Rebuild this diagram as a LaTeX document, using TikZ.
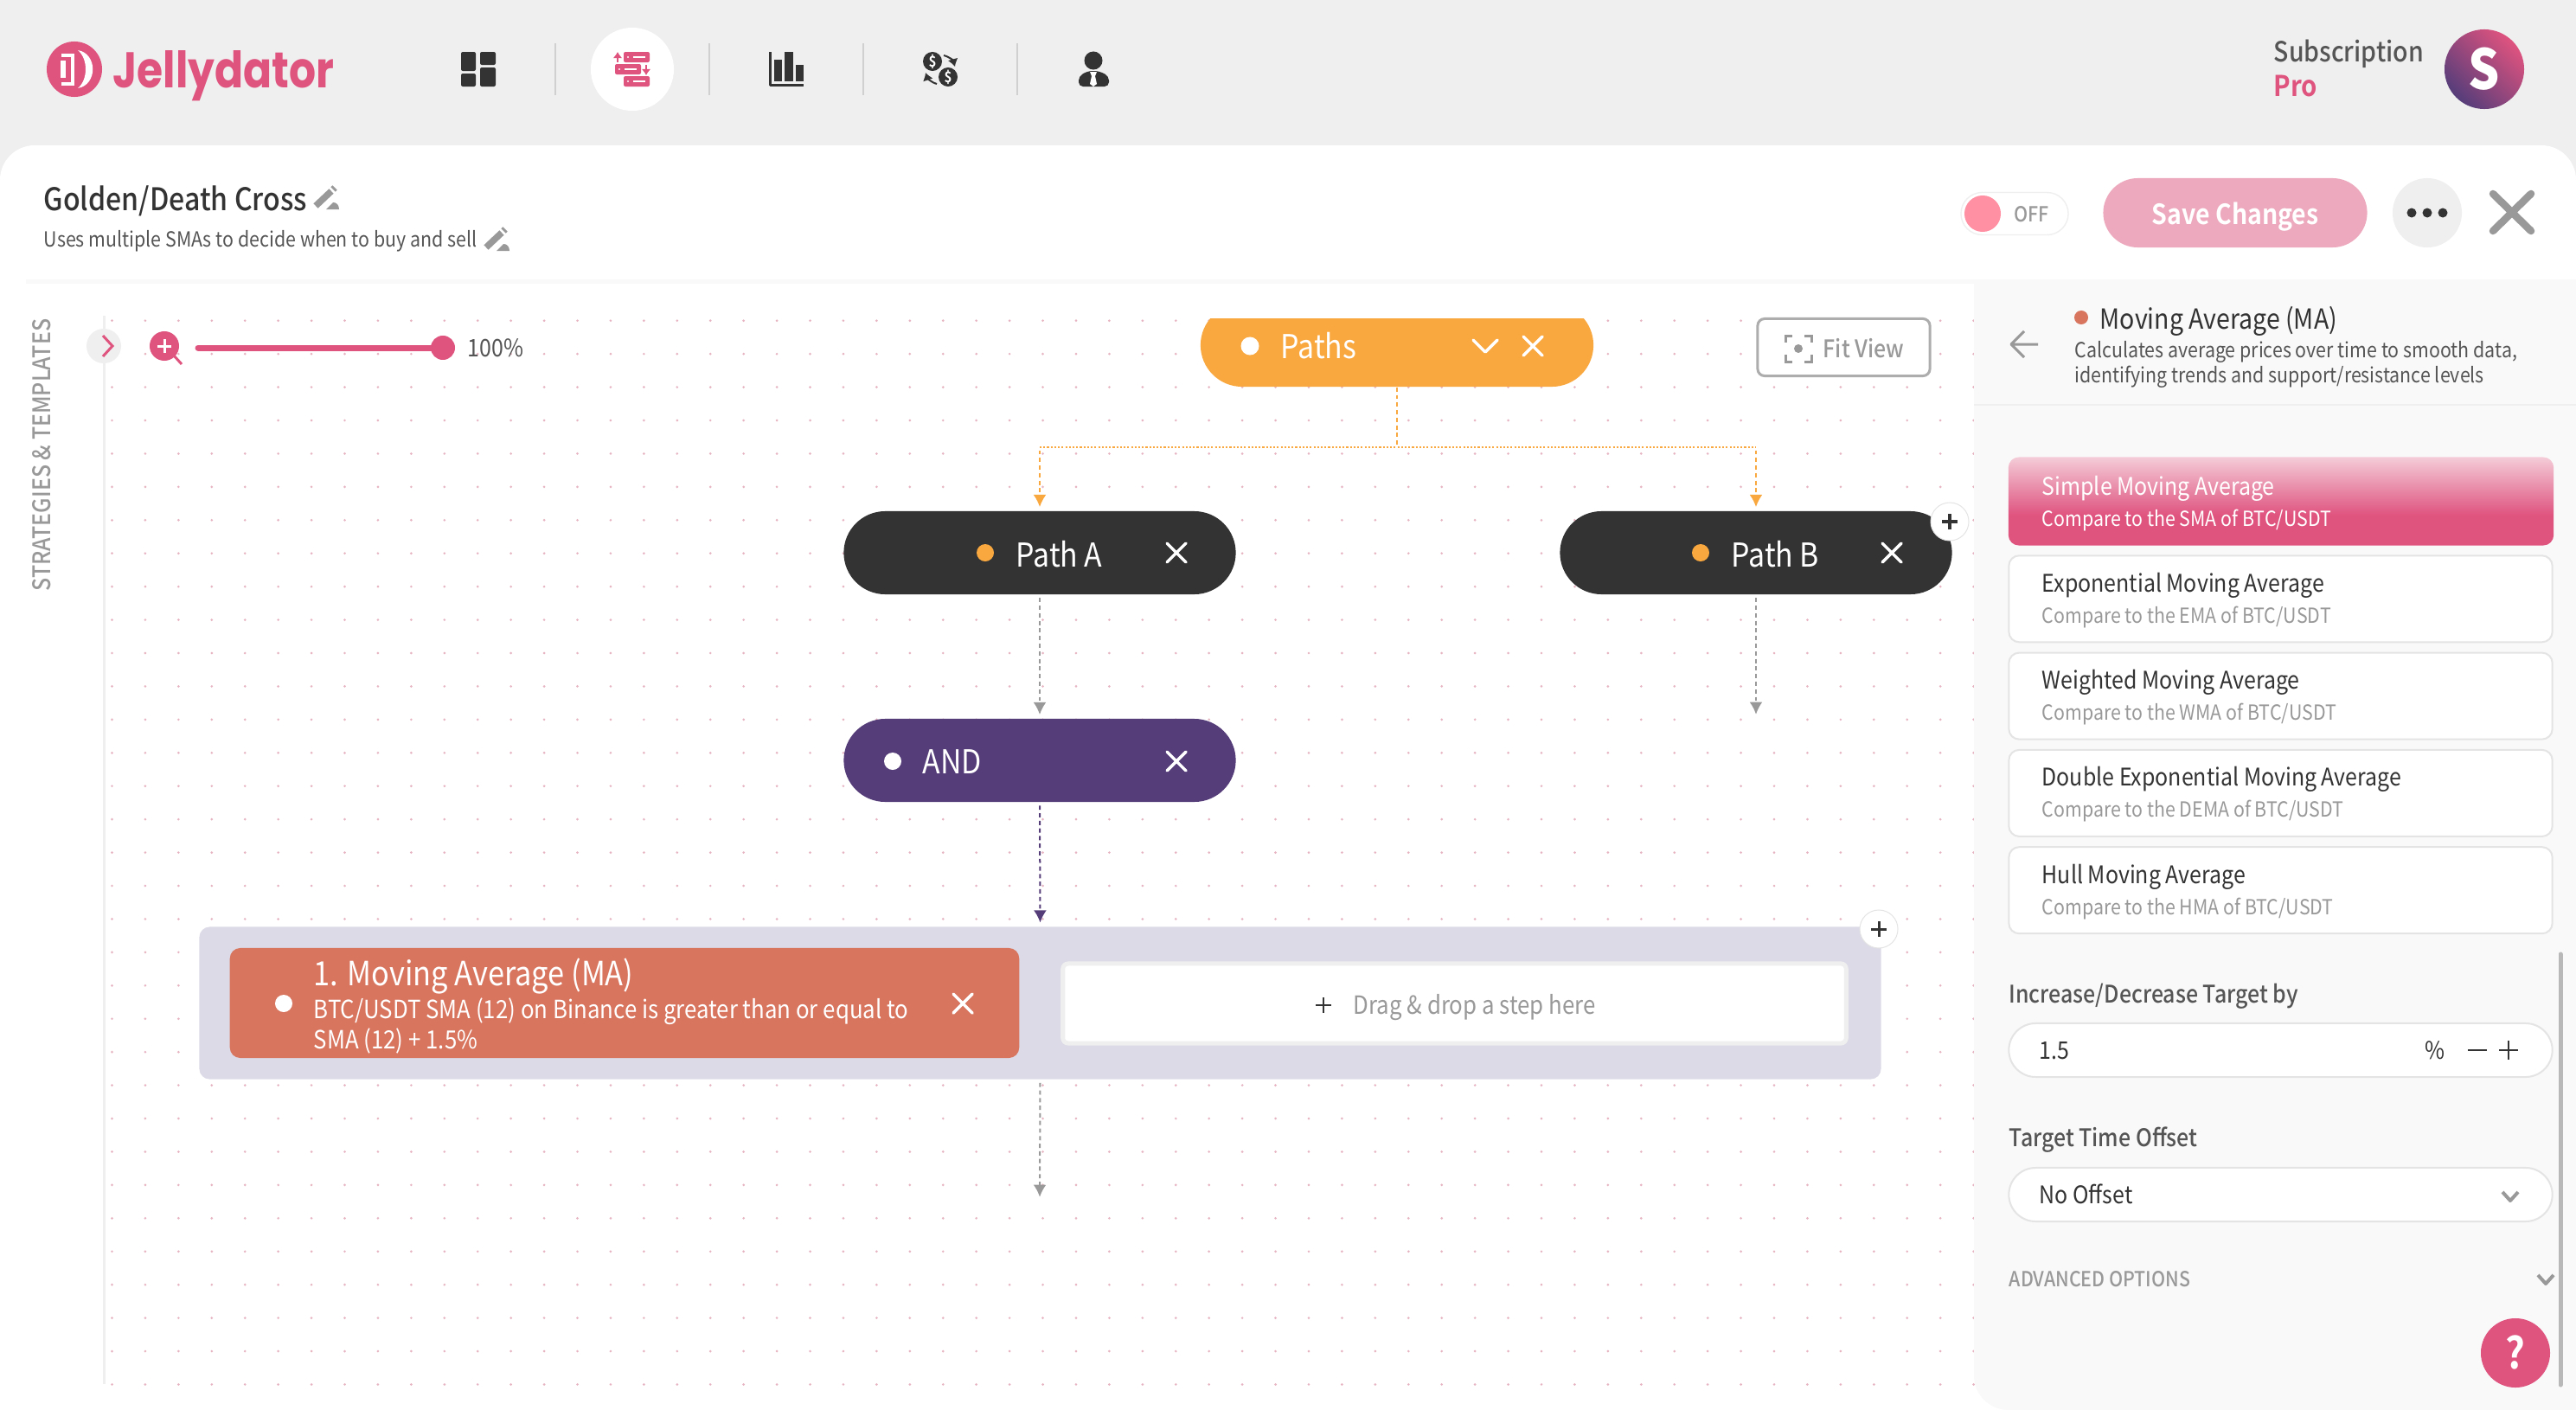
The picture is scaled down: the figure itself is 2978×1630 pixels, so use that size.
\documentclass[tikz,border=0pt]{standalone}
\usepackage{fontspec}
\usepackage{xfp}
\usetikzlibrary{arrows.meta}
\setmainfont{Noto Sans CJK SC}[BoldFont={Noto Sans CJK SC Bold}, FakeStretch=0.89]
\newfontfamily\mediumfont{Noto Sans CJK SC Medium}[FakeStretch=0.89]
\newfontfamily\heavyfont{Noto Sans CJK SC Black}[FakeStretch=0.89]
\newfontfamily\logofont{Poppins}[UprightFont={* Bold}, FakeStretch=0.84]
\newcommand{\fs}[1]{\fontsize{\fpeval{#1*0.2845}pt}{\fpeval{#1*0.34}pt}\selectfont}

\definecolor{headgray}{HTML}{EFEFEF}
\definecolor{panelgray}{HTML}{F9F9FA}
\definecolor{jellypink}{HTML}{DF537F}
\definecolor{pinklight}{HTML}{F4CCD8}
\definecolor{savepink}{HTML}{EDA9BD}
\definecolor{knobpink}{HTML}{FF8FA3}
\definecolor{pathorange}{HTML}{F9A83F}
\definecolor{pathdark}{HTML}{333333}
\definecolor{andpurple}{HTML}{553D7A}
\definecolor{stepred}{HTML}{D8755F}
\definecolor{groupgray}{HTML}{DCDAE6}
\definecolor{dotpink}{HTML}{E6B4C2}
\definecolor{textgray}{HTML}{999999}
\definecolor{labelgray}{HTML}{555555}
\definecolor{edgegray}{HTML}{E4E4E4}

\pgfdeclareverticalshading{itemshade}{100bp}{color(0bp)=(jellypink); color(42bp)=(jellypink); color(75bp)=(pinklight); color(100bp)=(pinklight)}

\tikzset{
    lbl/.style={inner sep=0, anchor=base west, yshift=-0.02cm},
    pillnode/.style={rectangle, rounded corners=0.48cm, minimum width=4.53cm, minimum height=0.96cm, inner sep=0},
    listitem/.style={rectangle, rounded corners=0.12cm, minimum width=6.28cm, minimum height=1.00cm, inner sep=0, fill=white, draw=edgegray, line width=0.02cm},
    inputbox/.style={rectangle, rounded corners=0.31cm, minimum width=6.28cm, minimum height=0.62cm, inner sep=0, fill=white, draw=edgegray, line width=0.02cm},
    roundbtn/.style={circle, fill=white, draw=edgegray, line width=0.01cm, minimum size=0.44cm, inner sep=0},
    flowgray/.style={textgray, line width=0.02cm, dash pattern=on 1.4pt off 1.1pt, -{Latex[length=4pt,width=4.2pt]}, shorten <=1pt, shorten >=1.2pt},
    flowpurple/.style={flowgray, andpurple},
    floworange/.style={flowgray, pathorange},
    closemark/.pic={\draw[white, line width=0.035cm, line cap=round] (-11,-11) -- (11,11) (-11,11) -- (11,-11);},
    downmark/.pic={\draw[white, line width=0.035cm, line cap=round, line join=round] (-14,-7) -- (0,7) -- (14,-7);},
    graychevron/.pic={\draw[textgray, line width=0.04cm, line join=round] (-9,-5) -- (0,5) -- (9,-5);},
    pencilmark/.pic={
        \draw[textgray, line width=0.075cm] (-13,9) -- (5,-8);
        \draw[textgray, line width=0.075cm] (7,-10) -- (9,-12);
        \fill[textgray] (-1,13) -- (14,13) .. controls (14,8) and (11,5) .. (7,5) -- cycle;
    },
}

\begin{document}
\begin{tikzpicture}[x=0.01cm, y=-0.01cm]
    \useasboundingbox (0,0) rectangle (2978,1630);

    % Page
    \fill[headgray] (0,0) rectangle (2978,1630);
    \fill[white, rounded corners=0.4cm] (0,168) rectangle (2978,1700);

    % Logo
    \fill[jellypink] (86,80) circle (0.32cm);
    \draw[white, line width=0.045cm] (71,64) -- (84,64) -- (84,97) -- (71,97);
    \draw[white, line width=0.05cm] (73,70) -- (73,90);
    \fill[white] (90,58) .. controls (113,62) and (113,98) .. (90,102) .. controls (102,92) and (102,68) .. (90,58) -- cycle;
    \node[lbl, text=jellypink, font=\logofont\fs{58}] (logotext) at (130,99) {Jellydator};

    % Navigation
    \fill[white] (731,80) circle (0.48cm);
    \foreach \x in {642, 820, 998, 1176} {
        \draw[edgegray!80!gray, line width=0.02cm] (\x,50) -- (\x,110);
    }
    \fill[pathdark, rounded corners=0.02cm] (533,60) rectangle (550,82);
    \fill[pathdark, rounded corners=0.02cm] (533,85) rectangle (550,100);
    \fill[pathdark, rounded corners=0.02cm] (555,60) rectangle (573,75);
    \fill[pathdark, rounded corners=0.02cm] (555,78) rectangle (573,100);

    \foreach \x/\y in {721/60, 711/74, 721/88} {
        \fill[jellypink, rounded corners=0.02cm] (\x,\y) rectangle (\x+30,\y+12);
        \draw[white, line width=0.015cm] (\x+11,\y+6) -- (\x+25,\y+6);
        \fill[white] (\x+5,\y+6) circle (0.012cm);
    }
    \draw[jellypink, line width=0.02cm, -{Latex[length=2pt,width=3pt]}] (714,72) -- (714,60);
    \draw[jellypink, line width=0.02cm, -{Latex[length=2pt,width=3pt]}] (747,75) -- (747,87);

    \draw[pathdark, line width=0.03cm, line join=round] (890,60) -- (890,98) -- (929,98);
    \fill[pathdark] (895,69) rectangle (904,94);
    \fill[pathdark] (907,60) rectangle (917,94);
    \fill[pathdark] (920,75) rectangle (929,94);

    \fill[pathdark] (1078,71) circle (0.11cm);
    \fill[pathdark] (1096,89) circle (0.11cm);
    \node[inner sep=0, text=white, font=\bfseries\fs{17}] (coinA) at (1078,71) {\$};
    \node[inner sep=0, text=white, font=\bfseries\fs{17}] (coinB) at (1096,89) {\$};
    \draw[pathdark, line width=0.02cm, -{Latex[length=2.5pt,width=3.5pt]}] (1091,64) .. controls (1098,66) and (1102,70) .. (1104,77);
    \draw[pathdark, line width=0.02cm, -{Latex[length=2.5pt,width=3.5pt]}] (1083,97) .. controls (1076,95) and (1072,90) .. (1070,84);

    \fill[pathdark] (1264,70) circle (0.105cm);
    \fill[pathdark, rounded corners=0.05cm] (1247,100) -- (1247,88) -- (1258,82) -- (1270,82) -- (1282,88) -- (1282,100) -- cycle;
    \fill[white] (1260,83) -- (1268,83) -- (1266,88) -- (1268,97) -- (1264,100) -- (1260,97) -- (1262,88) -- cycle;

    % Account
    \node[lbl, text=labelgray, font=\mediumfont\fs{32}] (account) at (2628,69) {Subscription};
    \node[lbl, text=jellypink, font=\bfseries\fs{33}] (plan) at (2628,109) {Pro};
    \shade[left color=jellypink, right color=andpurple, shading angle=-45] (2872,80) circle (0.46cm);
    \node[inner sep=0, text=white, font=\heavyfont\fs{64}] (avatar) at (2872,80) {S};

    % Title bar
    \node[lbl, text=pathdark, font=\mediumfont\fs{36}] (title) at (50,241) {Golden/Death Cross};
    \pic at (378,229) {pencilmark};
    \node[lbl, text=labelgray, font=\fs{24}] (subtitle) at (50,283) {Uses multiple SMAs to decide when to buy and sell};
    \pic at (575,277) {pencilmark};

    \node[rectangle, rounded corners=0.245cm, minimum width=1.24cm, minimum height=0.49cm, inner sep=0, fill=white, draw=headgray] (toggle) at (2329,247) {};
    \fill[knobpink] (2292,247) circle (0.21cm);
    \node[lbl, text=textgray, font=\mediumfont\fs{24}] (togglelabel) at (2328,254) {OFF};
    \node[rectangle, rounded corners=0.4cm, minimum width=3.05cm, minimum height=0.8cm, inner sep=0, fill=savepink] (save) at (2584,246) {};
    \node[lbl, anchor=base, text=white, font=\bfseries\fs{32}] (savelabel) at (2584,257) {Save Changes};
    \node[circle, fill=headgray, minimum size=0.8cm, inner sep=0] (more) at (2806,246) {};
    \foreach \x in {2788, 2806, 2824} {
        \fill[pathdark] (\x,246) circle (0.055cm);
    }
    \draw[textgray, line width=0.085cm, line cap=round] (2882,224) -- (2926,267) (2882,267) -- (2926,224);

    % Canvas
    \fill[panelgray] (30,323) rectangle (2978,328);
    \fill[white] (30,328) rectangle (2282,1630);
    \foreach \i in {0,...,56} {
        \foreach \j in {0,...,32} {
            \fill[dotpink] (129.5+\i*38.43, 370.7+\j*38.43) circle (0.42pt);
        }
    }
    \draw[headgray, line width=0.03cm] (120,365) -- (120,1600);

    % Canvas tools
    \node[rotate=90, inner sep=0, text=textgray, font=\mediumfont\fs{28}] (sidebar) at (48,526) {STRATEGIES \& TEMPLATES};
    \fill[headgray] (120,400) circle (0.2cm);
    \draw[jellypink, line width=0.03cm] (119,388) -- (130,400) -- (119,412);
    \fill[jellypink] (190,400) circle (0.17cm);
    \draw[white, line width=0.03cm] (182,400) -- (198,400) (190,392) -- (190,408);
    \draw[jellypink, line width=0.03cm] (201,411) -- (210,421);
    \draw[jellypink, line width=0.07cm, line cap=round] (229,402) -- (510,402);
    \fill[jellypink] (512,402) circle (0.14cm);
    \node[lbl, text=labelgray, font=\fs{28}] (zoomlabel) at (540,410) {100\%};
    \node[rectangle, rounded corners=0.08cm, minimum width=1.99cm, minimum height=0.66cm, inner sep=0, fill=white, draw=textgray!80!white, line width=0.03cm] (fitview) at (2131.5,401.5) {};
    \foreach \a/\b in {1/1, 1/-1, -1/1, -1/-1} {
        \draw[textgray, line width=0.03cm] (2079+\a*15,403+\b*7) -- (2079+\a*15,403+\b*15) -- (2079+\a*7,403+\b*15);
    }
    \fill[textgray] (2079,403) circle (0.05cm);
    \node[lbl, text=textgray, font=\mediumfont\fs{28}] (fitlabel) at (2107,411) {Fit View};

    % Paths
    \begin{scope}
        \clip (1300,368) rectangle (1900,460);
        \node[pillnode, fill=pathorange, minimum width=4.54cm] (paths) at (1615,399) {};
    \end{scope}
    \fill[white] (1445,400) circle (0.105cm);
    \node[lbl, text=white, font=\fs{38}] (pathslabel) at (1480,412) {Paths};
    \pic at (1717,400) {downmark};
    \pic at (1772,400) {closemark};

    % Path A and B
    \node[pillnode, fill=pathdark] (pathA) at (1202,639) {};
    \fill[pathorange] (1139,639) circle (0.1cm);
    \node[lbl, text=white, font=\fs{38}] (pathAlabel) at (1174,653) {Path A};
    \pic at (1360,639) {closemark};
    \node[pillnode, fill=pathdark] (pathB) at (2030,639) {};
    \fill[pathorange] (1966,639) circle (0.1cm);
    \node[lbl, text=white, font=\fs{38}] (pathBlabel) at (2001,653) {Path B};
    \pic at (2187,639) {closemark};
    \node[roundbtn] (pathBadd) at (2254,603) {};
    \draw[pathdark, line width=0.04cm] (2245,603) -- (2263,603) (2254,594) -- (2254,612);

    % AND
    \node[pillnode, fill=andpurple] (andnode) at (1202,879) {};
    \fill[white] (1032,880) circle (0.1cm);
    \node[lbl, text=white, font=\fs{38}] (andlabel) at (1066,892) {AND};
    \pic at (1360,880) {closemark};

    % Step group
    \node[rectangle, rounded corners=0.12cm, minimum width=19.43cm, minimum height=1.76cm, inner sep=0, fill=groupgray] (group) at (1202.5,1159.5) {};
    \node[rectangle, rounded corners=0.12cm, minimum width=9.12cm, minimum height=1.27cm, inner sep=0, fill=stepred] (stepnode) at (722,1159.5) {};
    \fill[white] (328,1160) circle (0.1cm);
    \node[lbl, text=white, font=\fs{38.6}] (stepname) at (362,1137) {1. Moving Average (MA)};
    \node[lbl, text=white, font=\fs{29}] (steptextA) at (362,1175) {BTC/USDT SMA (12) on Binance is greater than or equal to};
    \node[lbl, text=white, font=\fs{29}] (steptextB) at (362,1210) {SMA (12) + 1.5\%};
    \pic at (1113,1160) {closemark};
    \node[rectangle, rounded corners=0.06cm, minimum width=9.05cm, minimum height=0.92cm, inner sep=0, fill=white, draw=headgray, line width=0.05cm] (dropzone) at (1681.5,1160) {};
    \draw[pathdark, line width=0.02cm] (1521,1162) -- (1539,1162) (1530,1153) -- (1530,1171);
    \node[lbl, text=textgray, font=\fs{29}] (droplabel) at (1564,1170) {Drag \& drop a step here};
    \node[roundbtn] (groupadd) at (2172,1074) {};
    \draw[pathdark, line width=0.03cm] (2163,1074) -- (2181,1074) (2172,1065) -- (2172,1083);

    % Connectors
    \coordinate (forkC) at (1615,517);
    \coordinate (forkA) at (1202,517);
    \coordinate (forkB) at (2030,517);
    \coordinate (pathBend) at (2030,830);
    \coordinate (groupend) at (1202,1388);
    \draw[pathorange, line width=0.02cm, dash pattern=on 1.4pt off 1.1pt] (paths.south) -- (forkC);
    \draw[pathorange, line width=0.025cm, dash pattern=on 0.6pt off 0.6pt] (forkA) -- (forkB);
    \draw[floworange] (forkA) -- (pathA.north);
    \draw[floworange] (forkB) -- (pathB.north);
    \draw[flowgray] (pathA.south) -- (andnode.north);
    \draw[flowgray] (pathB.south) -- (pathBend);
    \draw[flowpurple] (andnode.south) -- (group.north);
    \draw[flowgray] (group.south) -- (groupend);

    % Right panel
    \fill[panelgray, rounded corners=0.4cm] (2282,328) rectangle (3100,1630);
    \fill[panelgray] (2282,328) rectangle (2978,600);
    \draw[headgray, line width=0.02cm] (2282,468) -- (2978,468);
    \draw[textgray, line width=0.03cm, line join=round] (2356,398) -- (2326,398) (2340,383) -- (2325,398) -- (2340,413);
    \fill[stepred] (2406,367) circle (0.08cm);
    \node[lbl, text=pathdark, font=\fs{32}] (paneltitle) at (2427,378) {Moving Average (MA)};
    \node[lbl, text=labelgray, font=\fs{24}] (paneltextA) at (2398,411) {Calculates average prices over time to smooth data,};
    \node[lbl, text=labelgray, font=\fs{24}] (paneltextB) at (2398,440) {identifying trends and support/resistance levels};

    % Moving average list
    \node[listitem, draw=none, shading=itemshade, minimum width=6.30cm, minimum height=1.02cm] (itemA) at (2637,579.5) {};
    \node[lbl, text=white, font=\fs{28}] (itemAname) at (2360,570) {Simple Moving Average};
    \node[lbl, text=white, font=\fs{24}] (itemAtext) at (2360,606) {Compare to the SMA of BTC/USDT};
    \foreach \i/\name/\short in {1/Exponential/EMA, 2/Weighted/WMA, 3/Double Exponential/DEMA, 4/Hull/HMA} {
        \node[listitem] (item\i) at (2636.5,580+\i*112.3) {};
        \node[lbl, text=pathdark, font=\fs{28}] (item\i name) at (2360,570+\i*112.3) {\name{} Moving Average};
        \node[lbl, text=textgray, font=\fs{24}] (item\i text) at (2360,606+\i*112.3) {Compare to the \short{} of BTC/USDT};
    }

    % Target inputs
    \node[lbl, text=labelgray, font=\mediumfont\fs{28}] (targetlabel) at (2322,1157) {Increase/Decrease Target by};
    \node[inputbox] (targetbox) at (2636.5,1214) {};
    \node[lbl, text=pathdark, font=\fs{28}] (targetvalue) at (2357,1222) {1.5};
    \node[lbl, text=pathdark, font=\fs{28}] (targetunit) at (2803,1222) {\%};
    \draw[pathdark, line width=0.02cm] (2853,1214) -- (2875,1214) (2889,1214) -- (2911,1214) (2900,1203) -- (2900,1225);
    \node[lbl, text=labelgray, font=\mediumfont\fs{28}] (offsetlabel) at (2322,1323) {Target Time Offset};
    \node[inputbox] (offsetbox) at (2636.5,1381) {};
    \node[lbl, text=pathdark, font=\fs{28}] (offsetvalue) at (2357,1389) {No Offset};
    \pic at (2902,1383) {graychevron};
    \node[lbl, text=textgray, font=\mediumfont\fs{24}] (advanced) at (2322,1485) {ADVANCED OPTIONS};
    \pic at (2943,1479) {graychevron};
    \draw[textgray!70!white, line width=0.05cm, line cap=round] (2960,1103) -- (2960,1601);
    \node[circle, minimum size=0.8cm, inner sep=0, fill=jellypink] (help) at (2908,1564) {};
    \node[inner sep=0, anchor=base, text=white, font=\bfseries\fs{50}] (helpmark) at (2908,1582) {?};
\end{tikzpicture}
\end{document}
